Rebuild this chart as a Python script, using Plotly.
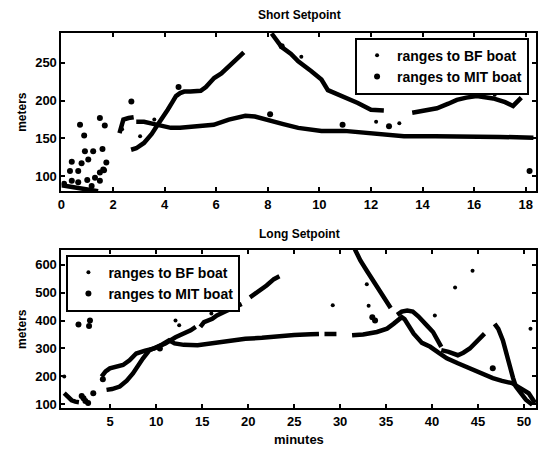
import plotly.graph_objects as go

# ---------------- Short Setpoint (top) ----------------
# continuous tracks (None separates segments)
short_bf_track_min = [2.7, 2.9, 3.2, 3.5, 3.73, 3.9, 4.12, 4.3, 4.44, 4.6, 4.76, 5.0, 5.4, 5.6, 5.92, 6.2, 6.49, 6.8, 7.07, None,
                      8.15, 8.54, 8.9, 9.18, 9.69, 10.08, 10.33, 10.6, 10.97, 11.49, 12.0, 12.5, None,
                      13.6, 14.0, 14.56, 15.0, 15.33, 15.7, 16.1, 16.74, 17.2, 17.51, 17.83]
short_bf_track_m = [135, 137, 144, 156, 168, 176, 188, 198, 206, 210, 212, 212, 213, 218, 230, 236, 245, 254, 264, None,
                    289, 271, 262, 252, 239, 228, 214, 210, 206, 197, 188, 187, None,
                    184, 186, 190, 196, 201, 204, 206, 203, 198, 193, 204]
short_mit_track_min = [0.0, 0.3, 0.6, 0.9, 1.2, 1.42, None,
                       2.25, 2.32, 2.4, 2.6, 2.8, None,
                       2.9, 3.2, 3.6, 3.9, 4.24, 4.6, 5.01, 5.5, 5.9, 6.49, 6.8, 7.13, 7.5, 7.8, 8.15, 8.6, 9.18, 9.6,
                       10.08, 10.97, 12.0, 12.5, 13.28, 14.5, 15.85, 17.0, 18.3]
short_mit_track_m = [88, 86, 84, 82, 80, 80, None,
                     157, 168, 175, 177, 178, None,
                     172, 172, 169, 166, 164, 164, 165, 166, 168, 175, 178, 180, 179, 176, 173, 169, 164, 162,
                     160, 160, 157, 155, 153, 153, 153, 152, 151]
# isolated returns
short_bf_pts_min = [2.35, 3.05, 3.6, 9.3, 12.2, 16.8, 13.1]
short_bf_pts_m = [162, 153, 175, 258, 172, 208, 170]
short_mit_pts_min = [0.72, 0.88, 0.91, 1.23, 1.04, 0.78, 0.4, 0.33, 0.65, 1.59, 1.68, 1.49, 1.74, 1.62, 1.49,
                     0.1, 0.4, 0.65, 1.0, 1.17, 1.3, 1.49, 1.65, 2.71, 4.54, 8.09, 8.54, 10.9, 12.7, 18.15]
short_mit_pts_m = [168, 154, 133, 133, 122, 117, 119, 107, 107, 136, 167, 177, 118, 109, 105,
                   90, 94, 92, 95, 87, 98, 94, 108, 199, 218, 182, 272, 168, 166, 107]

# ---------------- Long Setpoint (bottom) ----------------
long_bf_track_min = [4.6, 5.2, 6.04, 6.8, 7.47, 8.0, 8.55, 9.27, 10.2, 11.0, 12.1, 13.0, 13.75, 14.3, None,
                     14.8, 15.2, 16.1, 16.6, 17.5, 18.4, 19.3, None,
                     20.2, 21.0, 22.0, 22.8, 23.4, None,
                     31.6, 32.2, 32.9, 33.5, 34.0, 34.8, 35.5, None,
                     36.2, 36.7, 37.3, 37.9, 38.5, 39.0, 39.5, 40.1, 40.6, 41.0, None,
                     41.0, 41.8, 42.8, 43.4, 44.1, 44.9, 45.7, None,
                     46.8, 47.2, 47.7, 48.0, 48.4, 48.8, 49.1, 49.7, 50.2, 50.9]
long_bf_track_m = [152, 155, 164, 185, 211, 238, 264, 294, 305, 318, 340, 352, 365, 377, None,
                   377, 394, 406, 418, 432, 446, 459, None,
                   483, 500, 525, 548, 558, None,
                   655, 615, 578, 548, 518, 480, 445, None,
                   420, 432, 436, 432, 415, 400, 380, 359, 330, 306, None,
                   294, 288, 276, 285, 300, 325, 353, None,
                   388, 370, 329, 290, 235, 195, 164, 135, 117, 99]
long_mit_track_min = [0.0, 0.4, 0.8, 1.2, 1.6, None,
                      4.06, 4.5, 4.96, 5.6, 6.39, 7.1, 7.83, 8.8, 9.8, 10.7, 11.4, 12.0, 13.0, 14.5, 16.0, 17.5,
                      19.7, 21.5, 23.3, 25.0, 26.8, 27.7, None,
                      28.3, 29.6, None,
                      31.3, 32.5, 34.0, 35.1, 35.8, 36.3, 36.7, 37.0, 37.5, 38.0, 38.9, 39.8, 40.7, 41.6, 42.8,
                      44.1, 45.3, 46.6, 47.6, 48.7, 49.5, 50.5, 51.2]
long_mit_track_m = [140, 125, 115, 110, 108, None,
                    199, 218, 229, 235, 241, 258, 282, 292, 300, 315, 329, 318, 313, 312, 318, 326,
                    335, 338, 345, 348, 351, 352, None,
                    352, 352, None,
                    347, 350, 359, 371, 388, 400, 412, 405, 380, 353, 320, 306, 285, 265, 247,
                    229, 210, 194, 184, 176, 160, 140, 105]
long_bf_pts_min = [12.5, 12.1, 29.2, 32.9, 33.1, 42.5, 44.4, 40.3, 50.7, 16.0, 0.0]
long_bf_pts_m = [383, 400, 455, 530, 453, 518, 578, 418, 371, 425, 200]
long_mit_pts_min = [2.1, 2.3, 2.6, 1.9, 3.16, 1.55, 2.8, 2.7, 33.5, 33.8, 46.6, 10.4, 4.2]
long_mit_pts_m = [122, 112, 105, 130, 140, 386, 400, 380, 412, 400, 229, 300, 190]

series_names = ["ranges to BF boat", "ranges to MIT boat"]

FONT = "Liberation Sans, Arial, sans-serif"
fig = go.Figure()

def add(tmin, tm, pmin, pm, name, size, xa, ya, leg, lw):
    fig.add_trace(go.Scatter(x=tmin, y=tm, mode="lines", line=dict(color="black", width=lw),
                             xaxis=xa, yaxis=ya, showlegend=False, connectgaps=False, hoverinfo="skip"))
    fig.add_trace(go.Scatter(x=pmin, y=pm, mode="markers", name=name,
                             marker=dict(color="black", size=size), xaxis=xa, yaxis=ya,
                             legend=leg, showlegend=True))

add(short_bf_track_min, short_bf_track_m, short_bf_pts_min, short_bf_pts_m, series_names[0], 4, "x", "y", "legend", 4.5)
add(short_mit_track_min, short_mit_track_m, short_mit_pts_min, short_mit_pts_m, series_names[1], 6, "x", "y", "legend", 4.5)
add(long_bf_track_min, long_bf_track_m, long_bf_pts_min, long_bf_pts_m, series_names[0], 4, "x2", "y2", "legend2", 4.5)
add(long_mit_track_min, long_mit_track_m, long_mit_pts_min, long_mit_pts_m, series_names[1], 6, "x2", "y2", "legend2", 4.5)

W, H = 538, 450
def dx(px): return px / W
def dy(py): return 1 - py / H

axis_common = dict(showline=True, linecolor="black", linewidth=2, mirror="ticks", ticks="inside",
                   ticklen=4, tickwidth=1.5, tickcolor="black", showgrid=False, zeroline=False,
                   tickfont=dict(family=FONT, size=13, color="black", weight="bold"))

legend_font = dict(family=FONT, size=14, color="black", weight="bold")
ann_font = dict(family=FONT, size=12, color="black", weight="bold")

fig.update_layout(
    width=W, height=H, margin=dict(l=0, r=0, t=0, b=0),
    paper_bgcolor="white", plot_bgcolor="white",
    xaxis=dict(domain=[dx(58), dx(537)], range=[0, 18.4], tickvals=[0, 2, 4, 6, 8, 10, 12, 14, 16, 18],
               anchor="y", **axis_common),
    yaxis=dict(domain=[dy(193), dy(33)], range=[80, 290], tickvals=[100, 150, 200, 250], anchor="x",
               **axis_common),
    xaxis2=dict(domain=[dx(58), dx(537)], range=[-0.3, 51.3], tickvals=[5, 10, 15, 20, 25, 30, 35, 40, 45, 50],
                anchor="y2", **axis_common),
    yaxis2=dict(domain=[dy(412), dy(252)], range=[86, 653], tickvals=[100, 200, 300, 400, 500, 600], anchor="x2",
                **axis_common),
    legend=dict(x=dx(530), y=dy(38), xanchor="right", yanchor="top", bgcolor="white",
                bordercolor="black", borderwidth=2, tracegroupgap=0, font=legend_font),
    legend2=dict(x=dx(63), y=dy(257), xanchor="left", yanchor="top", bgcolor="white",
                 bordercolor="black", borderwidth=2, tracegroupgap=0, font=legend_font),
    annotations=[
        dict(text="Short Setpoint", x=dx(298), y=dy(15), xref="paper", yref="paper", showarrow=False,
             xanchor="center", yanchor="middle", font=ann_font),
        dict(text="Long Setpoint", x=dx(298), y=dy(236), xref="paper", yref="paper", showarrow=False,
             xanchor="center", yanchor="middle", font=ann_font),
        dict(text="meters", x=dx(18), y=dy(113), xref="paper", yref="paper", showarrow=False, textangle=-90,
             xanchor="center", yanchor="middle", font=ann_font),
        dict(text="meters", x=dx(18), y=dy(332), xref="paper", yref="paper", showarrow=False, textangle=-90,
             xanchor="center", yanchor="middle", font=ann_font),
        dict(text="minutes", x=dx(298), y=dy(443), xref="paper", yref="paper", showarrow=False,
             xanchor="center", yanchor="middle", font=dict(family=FONT, size=13, color="black", weight="bold")),
    ],
)

fig.write_html("out.html")
